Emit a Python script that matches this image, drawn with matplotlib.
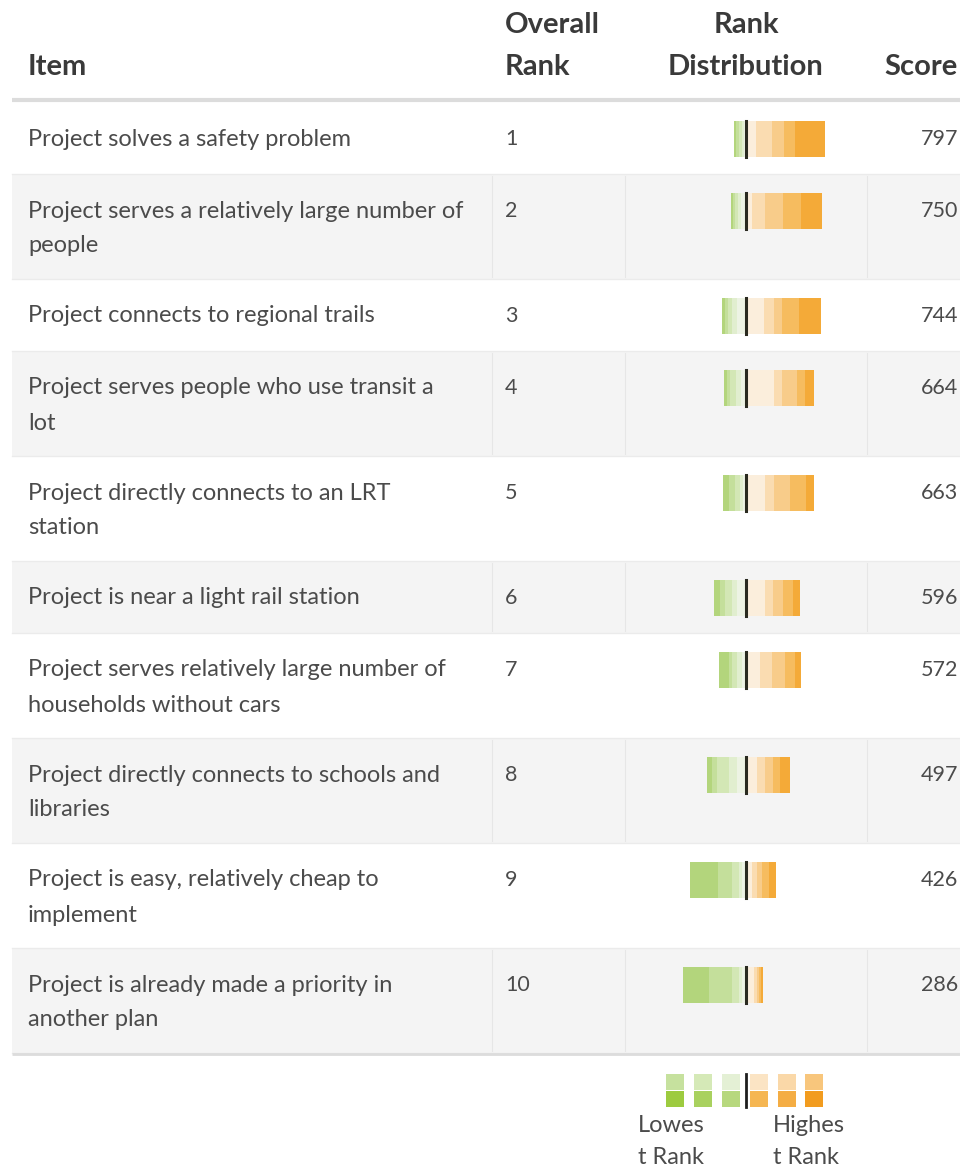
import matplotlib.pyplot as plt

plt.rcParams['font.family'] = ['Lato', 'DejaVu Sans']

# table content
items = [
    "Project solves a safety problem",
    "Project serves a relatively large number of\npeople",
    "Project connects to regional trails",
    "Project serves people who use transit a\nlot",
    "Project directly connects to an LRT\nstation",
    "Project is near a light rail station",
    "Project serves relatively large number of\nhouseholds without cars",
    "Project directly connects to schools and\nlibraries",
    "Project is easy, relatively cheap to\nimplement",
    "Project is already made a priority in\nanother plan",
]
overall_rank = [1, 2, 3, 4, 5, 6, 7, 8, 9, 10]
scores = [797, 750, 744, 664, 663, 596, 572, 497, 426, 286]

# how many respondents put each item at rank 1 .. rank 10
rank_1 = [30, 21, 22, 9, 8, 7, 6, 10, 7, 2]
rank_2 = [11, 18, 17, 8, 16, 10, 10, 7, 7, 2]
rank_3 = [12, 18, 8, 15, 16, 10, 13, 8, 5, 2]
rank_4 = [16, 13, 10, 8, 9, 8, 12, 8, 5, 3]
rank_5 = [10, 6, 18, 28, 19, 19, 14, 11, 6, 8]
rank_6 = [2, 5, 9, 5, 3, 9, 4, 9, 4, 4]
rank_7 = [2, 3, 5, 5, 3, 5, 5, 8, 3, 3]
rank_8 = [3, 3, 4, 6, 5, 7, 5, 12, 7, 7]
rank_9 = [3, 2, 3, 3, 6, 5, 3, 5, 14, 23]
rank_10 = [2, 2, 3, 3, 6, 6, 10, 5, 28, 26]

# colours, lowest rank (10) first
rank_colors = ["#b3d57c", "#c4df9b", "#d3e7b5", "#e1eecf", "#edf3e4",
               "#fbeedc", "#fadcb1", "#f8cc8a", "#f6bc5f", "#f4aa38"]
legend_top = ["#c6e19e", "#d5e9b7", "#e4f0d5", "#fbe4c4", "#fad8a8", "#f8c67c"]
legend_bottom = ["#9dcb3f", "#a9d15f", "#b7d87e", "#f5b652", "#f4ad44", "#f29c1f"]

text_col = "#4b4b4b"
head_col = "#3a3a3a"
body_fs = 17
head_fs = 21

fig = plt.figure(figsize=(9.6, 11.7), dpi=100)
ax = fig.add_axes([0, 0, 1, 1])
ax.set_xlim(0, 960)
ax.set_ylim(1170, 0)
ax.axis("off")

# header
hkw = dict(fontsize=head_fs, fontweight="bold", color=head_col, va="center")
ax.text(28, 67, "Item", **hkw)
ax.text(505, 25, "Overall", **hkw)
ax.text(505, 67, "Rank", **hkw)
ax.text(746, 25, "Rank", ha="center", **hkw)
ax.text(746, 67, "Distribution", ha="center", **hkw)
ax.text(958, 67, "Score", ha="right", **hkw)
ax.plot([12, 960], [100, 100], color="#dcdcdc", lw=3, solid_capstyle="butt")

divider = 746
bar_h = 36
top = 102
counts = [rank_1, rank_2, rank_3, rank_4, rank_5, rank_6, rank_7, rank_8, rank_9, rank_10]

for i, item in enumerate(items):
    lines = item.split("\n")
    h = 72 if len(lines) == 1 else 105
    if i % 2 == 1:
        ax.add_patch(plt.Rectangle((12, top), 948, h, color="#f4f4f4", lw=0, zorder=0))
        for vx in (492, 625, 867):
            ax.plot([vx, vx], [top + 2, top + h - 2], color="#e6e6e6", lw=0.8, zorder=0.5)
    ax.plot([12, 960], [top + h, top + h], color="#ebebeb", lw=1, zorder=0.6)
    cy = top + 37
    for j, ln in enumerate(lines):
        ax.text(28, cy + j * 35, ln, fontsize=body_fs, color=text_col, va="center")
    ax.text(505, cy, str(overall_rank[i]), fontsize=15.5, color=text_col, va="center")
    ax.text(958, cy, str(scores[i]), fontsize=15.5, color=text_col, va="center", ha="right")

    # stacked rank distribution: rank 10 at left ... rank 1 at right
    row = [counts[r][i] for r in range(9, -1, -1)]
    left = divider - sum(row[:5])
    for k, w in enumerate(row):
        ax.barh(cy, w, left=left, height=bar_h, color=rank_colors[k], lw=0, zorder=2)
        left += w
    ax.plot([divider, divider], [cy - bar_h / 2, cy + bar_h / 2], color="#2a2a20", lw=2.2, zorder=3)
    top += h

ax.plot([12, 960], [top + 1, top + 1], color="#dcdcdc", lw=2, solid_capstyle="butt")

# legend
leg_x = [666, 694, 722, 750, 778, 805]
ax.bar(leg_x, [16] * 6, bottom=1074, width=18, align="edge", color=legend_top, lw=0)
ax.bar(leg_x, [16] * 6, bottom=1091, width=18, align="edge", color=legend_bottom, lw=0)
ax.plot([divider, divider], [1074, 1107], color="#1e1e1e", lw=2)
for lx, word in ((638, "Lowes"), (773, "Highes")):
    ax.text(lx, 1125, word, fontsize=body_fs, color=text_col, va="center")
    ax.text(lx, 1157, "t Rank", fontsize=body_fs, color=text_col, va="center")

fig.savefig("out.png", dpi=100)
